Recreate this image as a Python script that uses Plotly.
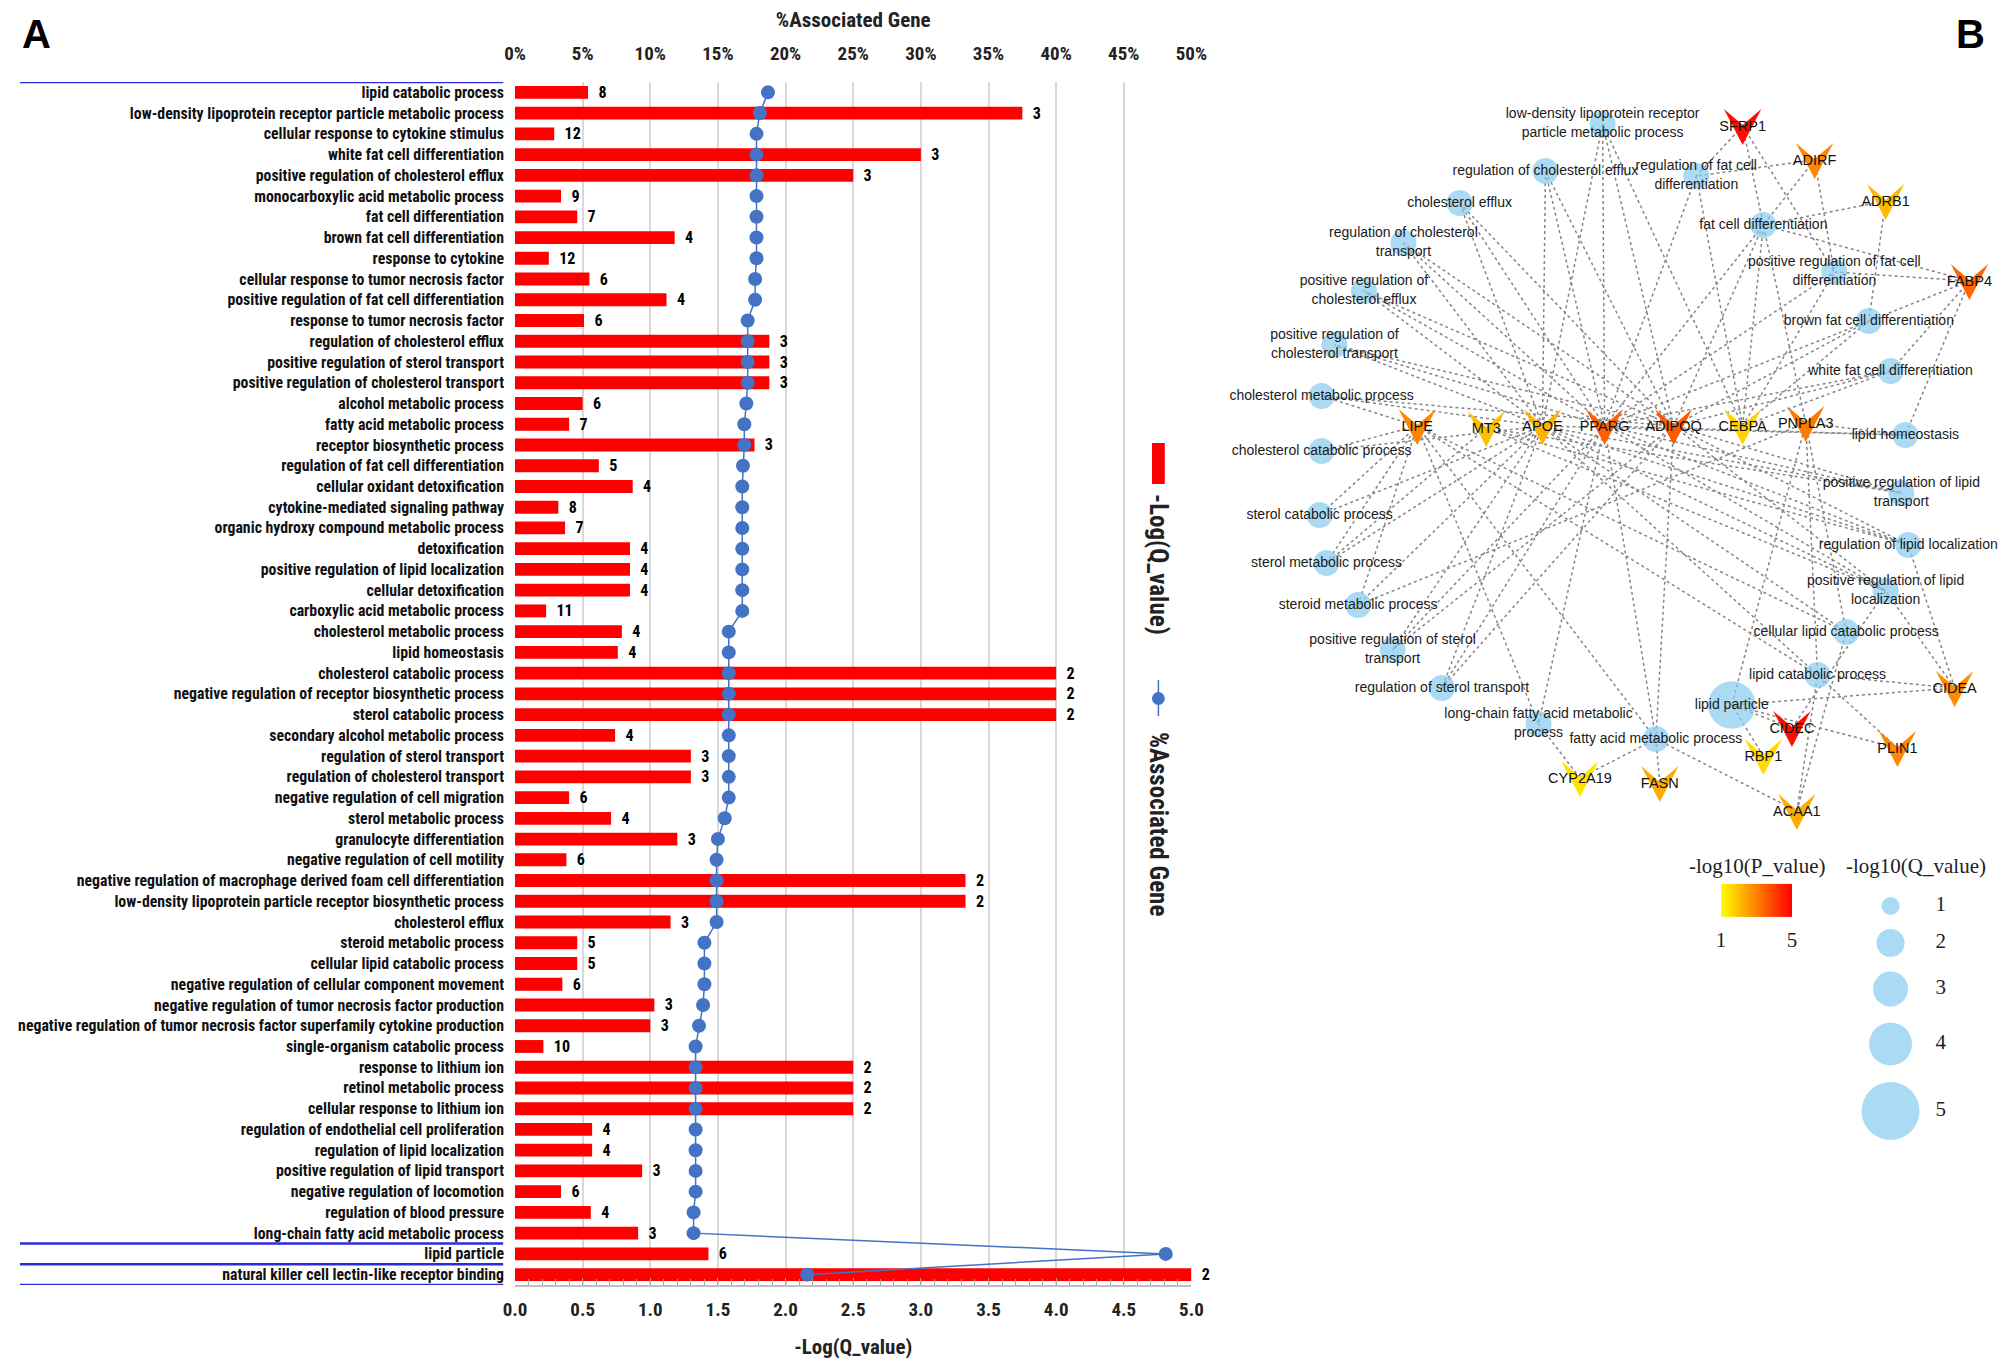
import plotly.graph_objects as go
from plotly.colors import sample_colorscale
import numpy as np

W, H = 2008, 1361

# ---------------- Panel A data ----------------
categories = [
    "lipid catabolic process",
    "low-density lipoprotein receptor particle metabolic process",
    "cellular response to cytokine stimulus",
    "white fat cell differentiation",
    "positive regulation of cholesterol efflux",
    "monocarboxylic acid metabolic process",
    "fat cell differentiation",
    "brown fat cell differentiation",
    "response to cytokine",
    "cellular response to tumor necrosis factor",
    "positive regulation of fat cell differentiation",
    "response to tumor necrosis factor",
    "regulation of cholesterol efflux",
    "positive regulation of sterol transport",
    "positive regulation of cholesterol transport",
    "alcohol metabolic process",
    "fatty acid metabolic process",
    "receptor biosynthetic process",
    "regulation of fat cell differentiation",
    "cellular oxidant detoxification",
    "cytokine-mediated signaling pathway",
    "organic hydroxy compound metabolic process",
    "detoxification",
    "positive regulation of lipid localization",
    "cellular detoxification",
    "carboxylic acid metabolic process",
    "cholesterol metabolic process",
    "lipid homeostasis",
    "cholesterol catabolic process",
    "negative regulation of receptor biosynthetic process",
    "sterol catabolic process",
    "secondary alcohol metabolic process",
    "regulation of sterol transport",
    "regulation of cholesterol transport",
    "negative regulation of cell migration",
    "sterol metabolic process",
    "granulocyte differentiation",
    "negative regulation of cell motility",
    "negative regulation of macrophage derived foam cell differentiation",
    "low-density lipoprotein particle receptor biosynthetic process",
    "cholesterol efflux",
    "steroid metabolic process",
    "cellular lipid catabolic process",
    "negative regulation of cellular component movement",
    "negative regulation of tumor necrosis factor production",
    "negative regulation of tumor necrosis factor superfamily cytokine production",
    "single-organism catabolic process",
    "response to lithium ion",
    "retinol metabolic process",
    "cellular response to lithium ion",
    "regulation of endothelial cell proliferation",
    "regulation of lipid localization",
    "positive regulation of lipid transport",
    "negative regulation of locomotion",
    "regulation of blood pressure",
    "long-chain fatty acid metabolic process",
    "lipid particle",
    "natural killer cell lectin-like receptor binding",
]

neg_log_q = [0.54, 3.75, 0.29, 3.00, 2.50, 0.34, 0.46, 1.18, 0.25, 0.55,
             1.12, 0.51, 1.88, 1.88, 1.88, 0.50, 0.40, 1.77, 0.62, 0.87,
             0.32, 0.37, 0.85, 0.85, 0.85, 0.23, 0.79, 0.76, 4.00, 4.00,
             4.00, 0.74, 1.30, 1.30, 0.40, 0.71, 1.20, 0.38, 3.33, 3.33,
             1.15, 0.46, 0.46, 0.35, 1.03, 1.00, 0.21, 2.50, 2.50, 2.50,
             0.57, 0.57, 0.94, 0.34, 0.56, 0.91, 1.43, 5.00]

gene_counts = [8, 3, 12, 3, 3, 9, 7, 4, 12, 6, 4, 6, 3, 3, 3, 6, 7, 3, 5, 4,
               8, 7, 4, 4, 4, 11, 4, 4, 2, 2, 2, 4, 3, 3, 6, 4, 3, 6, 2, 2,
               3, 5, 5, 6, 3, 3, 10, 2, 2, 2, 4, 4, 3, 6, 4, 3, 6, 2]

pct_assoc = [18.7, 18.1, 17.85, 17.85, 17.85, 17.85, 17.85, 17.85, 17.85, 17.75,
             17.75, 17.2, 17.2, 17.2, 17.2, 17.1, 16.95, 16.95, 16.85, 16.8,
             16.8, 16.8, 16.8, 16.8, 16.8, 16.8, 15.8, 15.8, 15.8, 15.8,
             15.8, 15.8, 15.8, 15.8, 15.8, 15.5, 15.0, 14.9, 14.9, 14.9,
             14.9, 14.0, 14.0, 14.0, 13.9, 13.6, 13.35, 13.35, 13.35, 13.35,
             13.35, 13.35, 13.35, 13.35, 13.2, 13.2, 48.1, 21.6]

top_ticks = list(range(0, 55, 5))
top_tick_text = [f"{v}%" for v in top_ticks]
bottom_ticks = [0.0, 0.5, 1.0, 1.5, 2.0, 2.5, 3.0, 3.5, 4.0, 4.5, 5.0]

# ---------------- Panel B data ----------------
genes = ["SFRP1", "ADIRF", "ADRB1", "FABP4", "LIPE", "MT3", "APOE", "PPARG",
         "ADIPOQ", "CEBPA", "PNPLA3", "CIDEA", "CIDEC", "PLIN1", "RBP1",
         "CYP2A19", "FASN", "ACAA1"]
gene_neglogp = [4.8, 2.9, 2.1, 3.4, 2.9, 2.0, 2.2, 3.5, 3.6, 1.7, 3.1, 2.8,
                4.8, 2.9, 1.6, 1.4, 2.3, 2.3]

terms = [
    "low-density lipoprotein receptor particle metabolic process",
    "regulation of cholesterol efflux",
    "regulation of fat cell differentiation",
    "cholesterol efflux",
    "regulation of cholesterol transport",
    "fat cell differentiation",
    "positive regulation of cholesterol efflux",
    "positive regulation of fat cell differentiation",
    "positive regulation of cholesterol transport",
    "brown fat cell differentiation",
    "white fat cell differentiation",
    "cholesterol metabolic process",
    "lipid homeostasis",
    "cholesterol catabolic process",
    "positive regulation of lipid transport",
    "sterol catabolic process",
    "regulation of lipid localization",
    "sterol metabolic process",
    "positive regulation of lipid localization",
    "steroid metabolic process",
    "cellular lipid catabolic process",
    "positive regulation of sterol transport",
    "lipid catabolic process",
    "regulation of sterol transport",
    "lipid particle",
    "long-chain fatty acid metabolic process",
    "fatty acid metabolic process",
]
term_neglogq = [1.8] * 24 + [4.3, 1.8, 1.8]

edges = {
    "SFRP1": ["regulation of fat cell differentiation", "fat cell differentiation",
              "positive regulation of fat cell differentiation"],
    "ADIRF": ["regulation of fat cell differentiation", "fat cell differentiation",
              "positive regulation of fat cell differentiation"],
    "ADRB1": ["fat cell differentiation", "brown fat cell differentiation"],
    "FABP4": ["fat cell differentiation", "brown fat cell differentiation",
              "white fat cell differentiation", "lipid homeostasis",
              "positive regulation of fat cell differentiation"],
    "LIPE": ["cholesterol metabolic process", "cholesterol catabolic process",
             "sterol catabolic process", "sterol metabolic process",
             "steroid metabolic process", "lipid catabolic process",
             "cellular lipid catabolic process", "long-chain fatty acid metabolic process",
             "fatty acid metabolic process"],
    "MT3": ["regulation of lipid localization", "positive regulation of lipid localization",
            "sterol metabolic process", "positive regulation of lipid transport"],
    "APOE": ["low-density lipoprotein receptor particle metabolic process",
             "regulation of cholesterol efflux", "cholesterol efflux",
             "regulation of cholesterol transport", "positive regulation of cholesterol efflux",
             "positive regulation of cholesterol transport", "cholesterol metabolic process",
             "cholesterol catabolic process", "sterol catabolic process",
             "sterol metabolic process", "steroid metabolic process",
             "positive regulation of sterol transport", "regulation of sterol transport",
             "lipid homeostasis", "regulation of lipid localization",
             "positive regulation of lipid transport",
             "positive regulation of lipid localization", "lipid catabolic process",
             "cellular lipid catabolic process"],
    "PPARG": ["low-density lipoprotein receptor particle metabolic process",
              "regulation of cholesterol efflux", "cholesterol efflux",
              "regulation of cholesterol transport", "positive regulation of cholesterol efflux",
              "positive regulation of cholesterol transport",
              "positive regulation of sterol transport", "regulation of sterol transport",
              "fat cell differentiation", "regulation of fat cell differentiation",
              "positive regulation of fat cell differentiation",
              "white fat cell differentiation", "brown fat cell differentiation",
              "lipid homeostasis", "regulation of lipid localization",
              "positive regulation of lipid localization",
              "positive regulation of lipid transport",
              "long-chain fatty acid metabolic process", "fatty acid metabolic process"],
    "ADIPOQ": ["low-density lipoprotein receptor particle metabolic process",
               "regulation of cholesterol efflux", "cholesterol efflux",
               "positive regulation of cholesterol efflux", "regulation of cholesterol transport",
               "positive regulation of cholesterol transport", "regulation of sterol transport",
               "positive regulation of sterol transport", "cholesterol metabolic process",
               "fat cell differentiation", "brown fat cell differentiation",
               "white fat cell differentiation", "fatty acid metabolic process",
               "regulation of lipid localization", "positive regulation of lipid localization",
               "positive regulation of lipid transport"],
    "CEBPA": ["fat cell differentiation", "regulation of fat cell differentiation",
              "positive regulation of fat cell differentiation",
              "white fat cell differentiation", "brown fat cell differentiation",
              "low-density lipoprotein receptor particle metabolic process"],
    "PNPLA3": ["lipid homeostasis", "lipid particle", "lipid catabolic process",
               "cellular lipid catabolic process", "fat cell differentiation",
               "steroid metabolic process"],
    "CIDEA": ["regulation of lipid localization", "positive regulation of lipid localization",
              "lipid catabolic process", "lipid particle"],
    "CIDEC": ["lipid particle", "positive regulation of lipid localization"],
    "PLIN1": ["lipid particle", "lipid catabolic process"],
    "RBP1": ["lipid particle"],
    "CYP2A19": ["long-chain fatty acid metabolic process", "fatty acid metabolic process"],
    "FASN": ["fatty acid metabolic process"],
    "ACAA1": ["fatty acid metabolic process", "lipid catabolic process",
              "cellular lipid catabolic process"],
}

legend_q_values = [1, 2, 3, 4, 5]
colorbar_ticks = [1, 5]

# ---------------- network layout (pixel coordinates of the panel) ----------------
term_pos = {
    "low-density lipoprotein receptor particle metabolic process": (1605, 116),
    "regulation of cholesterol efflux": (1547, 163),
    "regulation of fat cell differentiation": (1700, 168),
    "cholesterol efflux": (1460, 195),
    "regulation of cholesterol transport": (1403, 235),
    "fat cell differentiation": (1768, 217),
    "positive regulation of cholesterol efflux": (1363, 283),
    "positive regulation of fat cell differentiation": (1840, 264),
    "positive regulation of cholesterol transport": (1333, 337),
    "brown fat cell differentiation": (1875, 313),
    "white fat cell differentiation": (1897, 363),
    "cholesterol metabolic process": (1320, 388),
    "lipid homeostasis": (1912, 427),
    "cholesterol catabolic process": (1320, 443),
    "positive regulation of lipid transport": (1908, 485),
    "sterol catabolic process": (1318, 507),
    "regulation of lipid localization": (1915, 537),
    "sterol metabolic process": (1325, 555),
    "positive regulation of lipid localization": (1892, 583),
    "steroid metabolic process": (1357, 597),
    "cellular lipid catabolic process": (1852, 624),
    "positive regulation of sterol transport": (1392, 642),
    "lipid catabolic process": (1823, 667),
    "regulation of sterol transport": (1442, 680),
    "lipid particle": (1736, 697),
    "long-chain fatty acid metabolic process": (1540, 716),
    "fatty acid metabolic process": (1659, 731),
}
term_label_text = {
    "low-density lipoprotein receptor particle metabolic process":
        "low-density lipoprotein receptor<br>particle metabolic process",
    "regulation of fat cell differentiation": "regulation of fat cell<br>differentiation",
    "regulation of cholesterol transport": "regulation of cholesterol<br>transport",
    "positive regulation of cholesterol efflux": "positive regulation of<br>cholesterol efflux",
    "positive regulation of fat cell differentiation":
        "positive regulation of fat cell<br>differentiation",
    "positive regulation of cholesterol transport":
        "positive regulation of<br>cholesterol transport",
    "positive regulation of lipid transport": "positive regulation of lipid<br>transport",
    "positive regulation of lipid localization":
        "positive regulation of lipid<br>localization",
    "positive regulation of sterol transport": "positive regulation of sterol<br>transport",
    "long-chain fatty acid metabolic process": "long-chain fatty acid metabolic<br>process",
}
gene_pos = {
    "SFRP1": (1747, 118), "ADIRF": (1820, 152), "ADRB1": (1892, 193),
    "FABP4": (1977, 273), "LIPE": (1417, 418), "MT3": (1487, 420),
    "APOE": (1544, 418), "PPARG": (1607, 418), "ADIPOQ": (1677, 418),
    "CEBPA": (1747, 418), "PNPLA3": (1811, 415), "CIDEA": (1962, 680),
    "CIDEC": (1797, 720), "PLIN1": (1904, 740), "RBP1": (1768, 748),
    "CYP2A19": (1582, 770), "FASN": (1663, 775), "ACAA1": (1802, 803),
}
legend_size_px = [18, 28, 35, 43, 58]   # bubble diameter scale
bubble_legend_x = 1897
bubble_legend_y = [898, 935, 981, 1036, 1103]

# ---------------- styles ----------------
BOLD_FONT = "Liberation Sans Narrow, Roboto Condensed, Arial Narrow, Roboto, sans-serif"
NET_FONT = "Liberation Sans, Arial, sans-serif"
SERIF = "Liberation Serif, Times New Roman, serif"
RED = "#FF0000"
BLUE = "#4472C4"
COLORSCALE = [[0, "#FFFF00"], [1, "#FF0000"]]

idx = list(range(len(categories)))

fig = go.Figure()

# Bars: -Log(Q_value)
fig.add_trace(go.Bar(
    x=neg_log_q, y=idx, orientation="h", xaxis="x", yaxis="y",
    marker=dict(color=RED, line=dict(width=0)), width=0.62,
    text=["\u00a0\u00a0" + str(c) for c in gene_counts], textposition="outside",
    textfont=dict(family=BOLD_FONT, size=16, color="black", weight="bold"),
    cliponaxis=False, constraintext="none", showlegend=False,
))

# Line: %Associated Gene
fig.add_trace(go.Scatter(
    x=pct_assoc, y=idx, xaxis="x2", yaxis="y", mode="lines+markers",
    line=dict(color=BLUE, width=1.5),
    marker=dict(color=BLUE, size=14),
    cliponaxis=False, showlegend=False,
))

# ---------------- network ----------------
ex, ey = [], []
for g, tlist in edges.items():
    gx, gy = gene_pos[g]
    for t in tlist:
        tx, ty = term_pos[t]
        ex += [gx, tx, None]
        ey += [gy, ty, None]
fig.add_trace(go.Scatter(
    x=ex, y=ey, mode="lines", xaxis="x3", yaxis="y3",
    line=dict(color="#858585", width=1.5, dash="dot"),
    hoverinfo="skip", showlegend=False,
))

term_sizes = np.interp(term_neglogq, legend_q_values, legend_size_px)
fig.add_trace(go.Scatter(
    x=[term_pos[t][0] for t in terms], y=[term_pos[t][1] for t in terms],
    mode="markers", xaxis="x3", yaxis="y3",
    marker=dict(size=term_sizes, color="#87CBEF", line=dict(width=0)),
    showlegend=False, hovertext=terms,
))

gene_colors = sample_colorscale(COLORSCALE, [(v - 1) / 4 for v in gene_neglogp])
v_dx = [-19, 0, 19, 0, -19]
v_dy = [-17, -1, -17, 19, -17]
for g, col in zip(genes, gene_colors):
    gx, gy = gene_pos[g]
    fig.add_trace(go.Scatter(
        x=[gx + d for d in v_dx], y=[gy + d for d in v_dy],
        mode="lines", fill="toself", fillcolor=col, line=dict(width=0, color=col),
        xaxis="x3", yaxis="y3", showlegend=False, hoverinfo="skip",
    ))

# hidden trace to provide the P-value colour bar
fig.add_trace(go.Scatter(
    x=[gene_pos[g][0] for g in genes], y=[gene_pos[g][1] for g in genes],
    mode="markers", xaxis="x3", yaxis="y3", showlegend=False, hoverinfo="skip",
    marker=dict(size=1, opacity=0, color=gene_neglogp, colorscale=COLORSCALE,
                cmin=1, cmax=5, showscale=True,
                colorbar=dict(orientation="h", x=1761 / W, xanchor="center",
                              y=1 - 910 / H, yanchor="middle",
                              len=71, lenmode="pixels", thickness=33,
                              tickvals=colorbar_ticks, ticks="outside", ticklen=5,
                              tickcolor="rgba(0,0,0,0)", outlinewidth=0,
                              tickfont=dict(family=SERIF, size=21, color="#222"),
                              xpad=0, ypad=0)),
))

# term labels
fig.add_trace(go.Scatter(
    x=[term_pos[t][0] for t in terms], y=[term_pos[t][1] for t in terms],
    mode="text", xaxis="x3", yaxis="y3", showlegend=False,
    text=[term_label_text.get(t, t) for t in terms], textposition="middle center",
    textfont=dict(family=NET_FONT, size=14, color="#1a1a1a"),
))
# gene labels
fig.add_trace(go.Scatter(
    x=[gene_pos[g][0] for g in genes], y=[gene_pos[g][1] + 1 for g in genes],
    mode="text", xaxis="x3", yaxis="y3", showlegend=False,
    text=genes, textposition="middle center",
    textfont=dict(family=NET_FONT, size=14.5, color="#111"),
))

# bubble size legend
fig.add_trace(go.Scatter(
    x=[bubble_legend_x] * len(legend_q_values), y=bubble_legend_y,
    mode="markers", xaxis="x3", yaxis="y3", showlegend=False,
    marker=dict(size=legend_size_px, color="#87CBEF", line=dict(width=0)),
))
fig.add_trace(go.Scatter(
    x=[bubble_legend_x + 51] * len(legend_q_values), y=bubble_legend_y,
    mode="text", xaxis="x3", yaxis="y3", showlegend=False,
    text=[str(v) for v in legend_q_values], textposition="middle center",
    textfont=dict(family=SERIF, size=21, color="#222"),
))

# ---------------- layout ----------------
xdom = [502 / W, 1188 / W]
ydom = [1 - 1277 / H, 1 - 74 / H]
tickfont = dict(family=BOLD_FONT, size=19, color="#222", weight="bold")
titlefont = dict(family=BOLD_FONT, size=21, color="#222", weight="bold")

shapes = []
# group separator lines (blue) at category boundaries
for yb in [-0.5, 55.5, 56.5, 57.5]:
    shapes.append(dict(type="line", xref="paper", yref="y", x0=0, x1=490 / W,
                       y0=yb, y1=yb, line=dict(color="#2B2BE0", width=2.6)))
# bottom separator of panel A
shapes.append(dict(type="line", xref="paper", yref="paper", x0=0, x1=1225 / W,
                   y0=1 - 1357 / H, y1=1 - 1357 / H, line=dict(color="#E3E3E3", width=3)))
# legend symbols of panel A
shapes.append(dict(type="rect", xref="paper", yref="paper",
                   x0=1148 / W, x1=1161 / W, y0=1 - 476 / H, y1=1 - 435 / H,
                   fillcolor=RED, line=dict(width=0)))
shapes.append(dict(type="line", xref="paper", yref="paper",
                   x0=1154.5 / W, x1=1154.5 / W, y0=1 - 708 / H, y1=1 - 672 / H,
                   line=dict(color=BLUE, width=1.5)))
shapes.append(dict(type="circle", xref="paper", yref="paper",
                   x0=1148 / W, x1=1161 / W, y0=1 - 697 / H, y1=1 - 684 / H,
                   fillcolor=BLUE, line=dict(width=0)))

annotations = [
    dict(text="-Log(Q_value)", xref="paper", yref="paper", x=1155 / W, y=1 - 557 / H,
         textangle=90, showarrow=False, xanchor="center", yanchor="middle",
         font=dict(family=BOLD_FONT, size=25, color="#222", weight="bold")),
    dict(text="%Associated Gene", xref="paper", yref="paper", x=1155 / W, y=1 - 816 / H,
         textangle=90, showarrow=False, xanchor="center", yanchor="middle",
         font=dict(family=BOLD_FONT, size=25, color="#222", weight="bold")),
    dict(text="A", xref="paper", yref="paper", x=0, y=1 - 2 / H, showarrow=False,
         xanchor="left", yanchor="top",
         font=dict(family="Liberation Sans, Arial, sans-serif", size=40, color="black",
                   weight="bold")),
    dict(text="B", xref="paper", yref="paper", x=1978 / W, y=1 - 2 / H, showarrow=False,
         xanchor="center", yanchor="top",
         font=dict(family="Liberation Sans, Arial, sans-serif", size=40, color="black",
                   weight="bold")),
    dict(text="-log10(P_value)", xref="paper", yref="paper", x=1762 / W, y=1 - 858 / H,
         showarrow=False, xanchor="center", yanchor="middle",
         font=dict(family=SERIF, size=21, color="#222")),
    dict(text="-log10(Q_value)", xref="paper", yref="paper", x=1923 / W, y=1 - 858 / H,
         showarrow=False, xanchor="center", yanchor="middle",
         font=dict(family=SERIF, size=21, color="#222")),
]

fig.update_layout(
    width=W, height=H,
    margin=dict(l=0, r=0, t=0, b=0, pad=0),
    paper_bgcolor="white", plot_bgcolor="white",
    bargap=0.38, showlegend=False,
    xaxis=dict(domain=xdom, range=[0, 5], anchor="y",
               tickvals=bottom_ticks, tickformat=".1f",
               showgrid=True, gridcolor="#D9D9D9", gridwidth=1.5,
               zeroline=False, showline=True, linecolor="#BFBFBF", linewidth=1.5,
               ticks="inside", ticklen=7, tickcolor="#A6A6A6", tickwidth=1.2,
               minor=dict(dtick=0.1, ticks="inside", ticklen=6, tickcolor="#A6A6A6",
                          tickwidth=1, showgrid=False),
               tickfont=tickfont, ticklabelstandoff=6,
               title=dict(text="-Log(Q_value)", standoff=20, font=titlefont)),
    xaxis2=dict(overlaying="x", side="top", range=[0, 50], anchor="y",
                tickvals=top_ticks, ticktext=top_tick_text,
                showgrid=False, zeroline=False, showline=False, ticks="",
                tickfont=tickfont, ticklabelstandoff=17,
                title=dict(text="%Associated Gene", standoff=12, font=titlefont)),
    yaxis=dict(domain=ydom, range=[57.5, -0.5], anchor="x",
               tickvals=idx, ticktext=categories,
               showgrid=False, zeroline=False, showline=False, ticks="",
               tickfont=dict(family=BOLD_FONT, size=15.8, color="#111", weight="bold"),
               ticklabelstandoff=10),
    xaxis3=dict(domain=[0.6, 1.0], range=[0.6 * W, W], visible=False, anchor="y3",
                fixedrange=True),
    yaxis3=dict(domain=[0, 1], range=[H, 0], visible=False, anchor="x3",
                fixedrange=True),
    shapes=shapes, annotations=annotations,
)

fig.write_html("out.html")
